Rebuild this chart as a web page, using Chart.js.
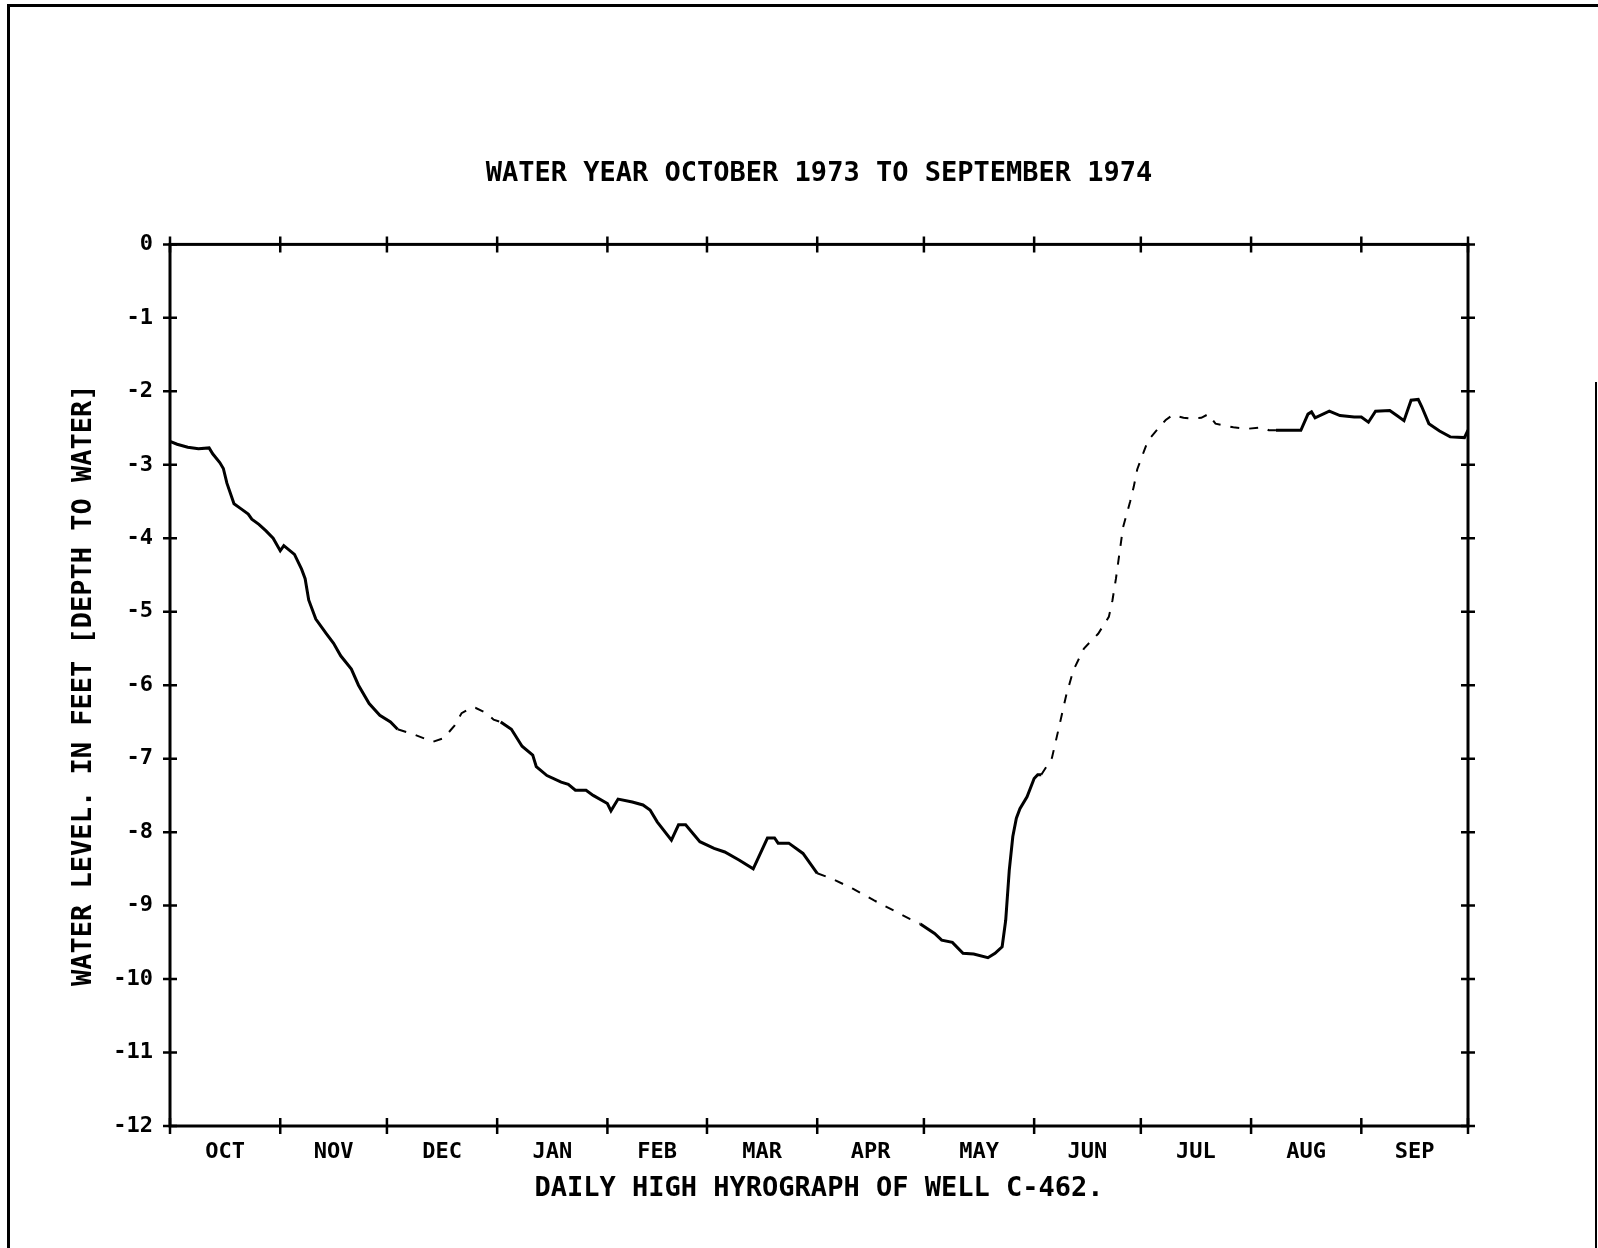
<!DOCTYPE html>
<html>
<head>
<meta charset="utf-8">
<title>Well C-462 daily high hydrograph</title>
<script src="https://cdn.jsdelivr.net/npm/chart.js@4.4.1/dist/chart.umd.min.js"></script>
<style>
  html, body { margin: 0; background: #fff; overflow: hidden; }
  #sheet { position: absolute; left: 7px; top: 4px; width: 1588px; height: 1260px;
           border-left: 3px solid #000; border-top: 3px solid #000; }
  #sheet-edge { position: absolute; left: 1595px; top: 382px; width: 0; height: 880px;
                border-left: 2px solid #000; }
  #hydrograph { position: absolute; left: 0; top: 0; }
</style>
</head>
<body>
<div id="sheet"></div>
<div id="sheet-edge"></div>
<canvas id="hydrograph" width="1598" height="1248"></canvas>
<script>
// water year Oct 1973 - Sep 1974, x is the day of the water year
const months = ['OCT', 'NOV', 'DEC', 'JAN', 'FEB', 'MAR', 'APR', 'MAY', 'JUN', 'JUL', 'AUG', 'SEP'];
const monthDays = [31, 30, 31, 31, 28, 31, 30, 31, 30, 31, 31, 30];
const yTicks = [0, -1, -2, -3, -4, -5, -6, -7, -8, -9, -10, -11, -12];

const days = [
  0, 2, 5, 8, 11, 12, 14, 15, 16, 18, 20, 22, 23, 25, 27, 29, 31, 32, 35, 37,
  38, 39, 41, 44, 46, 48, 51, 53, 56, 59, 62, 64, 68, 74, 77, 80, 82, 85, 86, 89,
  91, 93, 96, 99, 102, 103, 106, 110, 112, 114, 117, 119, 123, 124, 126, 130, 133, 135, 137, 141,
  143, 145, 149, 153, 156, 160, 164, 168, 170, 171, 174, 178, 182, 186, 192, 198, 204, 208, 211, 215,
  217, 220, 223, 226, 230, 232, 234, 235, 236, 237, 238, 239, 241, 243, 244, 245, 248, 250, 252, 254,
  257, 261, 264, 265, 266, 267, 268, 270, 271, 272, 274, 275, 278, 280, 282, 285, 287, 290, 292, 294,
  299, 303, 307, 309, 311, 318, 320, 321, 322, 326, 329, 333, 335, 337, 339, 343, 345, 347, 349, 351,
  352, 354, 357, 360, 364, 365
];
const levels = [
  -2.68, -2.72, -2.76, -2.78, -2.77, -2.85, -2.97, -3.05, -3.25, -3.53, -3.60, -3.67, -3.74, -3.81, -3.90, -4.00, -4.17, -4.10, -4.22, -4.42,
  -4.55, -4.84, -5.10, -5.30, -5.43, -5.60, -5.78, -6.00, -6.25, -6.41, -6.50, -6.60, -6.66, -6.77, -6.72, -6.55, -6.38, -6.30, -6.31, -6.38,
  -6.47, -6.50, -6.60, -6.83, -6.95, -7.11, -7.23, -7.32, -7.35, -7.43, -7.43, -7.50, -7.61, -7.71, -7.55, -7.59, -7.63, -7.70, -7.86, -8.11,
  -7.90, -7.90, -8.13, -8.22, -8.27, -8.38, -8.50, -8.08, -8.08, -8.15, -8.15, -8.29, -8.56, -8.63, -8.77, -8.93, -9.08, -9.18, -9.25, -9.38,
  -9.47, -9.50, -9.65, -9.66, -9.71, -9.65, -9.56, -9.20, -8.52, -8.06, -7.81, -7.68, -7.52, -7.27, -7.22, -7.22, -6.99, -6.57, -6.14, -5.80,
  -5.50, -5.30, -5.07, -4.85, -4.55, -4.20, -3.85, -3.50, -3.30, -3.06, -2.80, -2.67, -2.50, -2.39, -2.32, -2.36, -2.37, -2.36, -2.31, -2.44,
  -2.49, -2.51, -2.49, -2.53, -2.53, -2.53, -2.31, -2.28, -2.36, -2.27, -2.33, -2.35, -2.35, -2.42, -2.27, -2.26, -2.33, -2.40, -2.12, -2.11,
  -2.21, -2.44, -2.54, -2.62, -2.63, -2.53
];
// periods with missing record, drawn dashed
const estimatedRanges = [[64, 93], [182, 211], [245, 311]];

const monthStarts = [0];
monthDays.forEach(n => monthStarts.push(monthStarts[monthStarts.length - 1] + n));
const monthMids = months.map((m, i) => (monthStarts[i] + monthStarts[i + 1]) / 2);

const inEstimate = (a, b) => estimatedRanges.some(r => a >= r[0] && b <= r[1]);
const segEstimated = days.slice(0, -1).map((d, i) => inEstimate(d, days[i + 1]));

// a point belongs to a series if any segment touching it is of that kind
function pick(wantEstimated) {
  return days.map((d, i) => {
    const before = i > 0 && segEstimated[i - 1] === wantEstimated;
    const after = i < segEstimated.length && segEstimated[i] === wantEstimated;
    return { x: d, y: (before || after) ? levels[i] : null };
  });
}

const FONT = '"DejaVu Sans Mono", "Liberation Mono", monospace';

// box around the plot with cross ticks on all four sides
const plotFrame = {
  id: 'plotFrame',
  afterDatasetsDraw(chart) {
    const { ctx, chartArea: a, scales: { x, y } } = chart;
    ctx.save();
    ctx.strokeStyle = '#000';
    ctx.lineWidth = 3;
    ctx.strokeRect(a.left, a.top, a.right - a.left, a.bottom - a.top);
    ctx.lineWidth = 2.5;
    ctx.beginPath();
    monthStarts.forEach(d => {
      const px = x.getPixelForValue(d);
      ctx.moveTo(px, a.top - 8); ctx.lineTo(px, a.top + 8);
      ctx.moveTo(px, a.bottom - 8); ctx.lineTo(px, a.bottom + 8);
    });
    yTicks.forEach(v => {
      const py = y.getPixelForValue(v);
      ctx.moveTo(a.left - 7, py); ctx.lineTo(a.left + 7, py);
      ctx.moveTo(a.right - 7, py); ctx.lineTo(a.right + 7, py);
    });
    ctx.stroke();
    ctx.restore();
  }
};

new Chart(document.getElementById('hydrograph'), {
  type: 'line',
  data: {
    datasets: [
      {
        label: 'Recorded',
        data: pick(false),
        borderColor: '#000',
        borderWidth: 3,
        spanGaps: false
      },
      {
        label: 'Estimated',
        data: pick(true),
        borderColor: '#000',
        borderWidth: 2,
        borderDash: [9, 10],
        spanGaps: false
      }
    ]
  },
  options: {
    responsive: false,
    devicePixelRatio: 1,
    animation: false,
    layout: { padding: { left: 0, right: 130, top: 0, bottom: 0 } },
    elements: { point: { radius: 0 }, line: { tension: 0 } },
    plugins: {
      legend: { display: false },
      tooltip: { enabled: false },
      title: {
        display: true,
        fullSize: false,
        text: 'WATER YEAR OCTOBER 1973 TO SEPTEMBER 1974',
        color: '#000',
        font: { family: FONT, size: 27, weight: 'bold' },
        padding: { top: 158, bottom: 54 }
      }
    },
    scales: {
      x: {
        type: 'linear',
        min: 0,
        max: 365,
        grid: { display: false, drawTicks: false },
        border: { display: false },
        afterBuildTicks: scale => { scale.ticks = monthMids.map(v => ({ value: v })); },
        afterFit: scale => { scale.height = 122; },
        ticks: {
          autoSkip: false,
          maxRotation: 0,
          padding: 13,
          color: '#000',
          font: { family: FONT, size: 22, weight: 'bold' },
          callback: (v, i) => months[i]
        },
        title: {
          display: true,
          text: 'DAILY HIGH HYROGRAPH OF WELL C-462.',
          color: '#000',
          font: { family: FONT, size: 27, weight: 'bold' },
          padding: { top: 0, bottom: 43 }
        }
      },
      y: {
        min: -12,
        max: 0,
        grid: { display: false, drawTicks: false },
        border: { display: false },
        afterFit: scale => { scale.width = 170; },
        ticks: {
          stepSize: 1,
          padding: 17,
          color: '#000',
          font: { family: FONT, size: 22, weight: 'bold' }
        },
        title: {
          display: true,
          text: 'WATER LEVEL. IN FEET [DEPTH TO WATER]',
          color: '#000',
          font: { family: FONT, size: 27, weight: 'bold' },
          padding: { top: 68, bottom: 0 }
        }
      }
    }
  },
  plugins: [plotFrame]
});
</script>
</body>
</html>
